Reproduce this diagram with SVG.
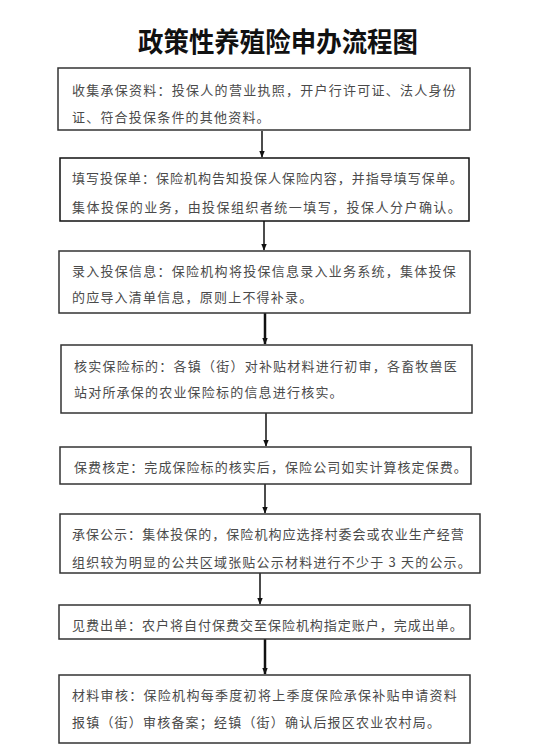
<svg xmlns="http://www.w3.org/2000/svg" width="545" height="748" viewBox="0 0 545 748">
<style>
.box{fill:#fff;stroke:#333;stroke-width:1.5}
.t{font-family:"Noto Sans CJK SC","Liberation Sans",sans-serif;font-size:13px;fill:#4a4a4a;letter-spacing:1.2px}
.title{font-family:"Noto Sans CJK SC","Liberation Sans",sans-serif;font-size:27px;font-weight:bold;fill:#111}
.c{stroke:#111;stroke-width:1.5;fill:none}
</style>
<defs>
<marker id="ah" viewBox="0 0 10 10" refX="9" refY="5" markerWidth="7" markerHeight="7" markerUnits="userSpaceOnUse" orient="auto">
<path d="M0,1 L10,5 L0,9 Z" fill="#111"/>
</marker>
</defs>
<rect width="545" height="748" fill="#fff"/>
<text class="title" x="278" y="52" text-anchor="middle" textLength="280" lengthAdjust="spacingAndGlyphs">政策性养殖险申办流程图</text>
<g id="connectors">
<line class="c" x1="262" y1="131" x2="262" y2="157" marker-end="url(#ah)"/>
<line class="c" x1="264" y1="221" x2="264" y2="250" marker-end="url(#ah)"/>
<line class="c" x1="265" y1="313" x2="265" y2="344" style="stroke-width:2.5" marker-end="url(#ah)"/>
<line class="c" x1="266" y1="413" x2="266" y2="446" marker-end="url(#ah)"/>
<line class="c" x1="265" y1="484" x2="265" y2="513" marker-end="url(#ah)"/>
<line class="c" x1="260" y1="573" x2="260" y2="604" marker-end="url(#ah)"/>
<line class="c" x1="265" y1="639" x2="265" y2="674" style="stroke-width:2.5" marker-end="url(#ah)"/>
</g>
<g id="n1">
<rect class="box" x="58" y="68" width="412" height="62"/>
<text class="t" x="72" y="95" textLength="385" lengthAdjust="spacing">收集承保资料：投保人的营业执照，开户行许可证、法人身份</text>
<text class="t" x="72" y="122">证、符合投保条件的其他资料。</text>
</g>
<g id="n2">
<rect class="box" x="60" y="158" width="409" height="63" style="stroke:#111"/>
<text class="t" x="72" y="183" textLength="392" lengthAdjust="spacing">填写投保单：保险机构告知投保人保险内容，并指导填写保单。</text>
<text class="t" x="72" y="212" textLength="390" lengthAdjust="spacing">集体投保的业务，由投保组织者统一填写，投保人分户确认。</text>
</g>
<g id="n3">
<rect class="box" x="59" y="251" width="411" height="62"/>
<text class="t" x="72" y="276" textLength="385" lengthAdjust="spacing">录入投保信息：保险机构将投保信息录入业务系统，集体投保</text>
<text class="t" x="72" y="302">的应导入清单信息，原则上不得补录。</text>
</g>
<g id="n4">
<rect class="box" x="61" y="345" width="411" height="68"/>
<text class="t" x="74" y="371" textLength="384" lengthAdjust="spacing">核实保险标的：各镇（街）对补贴材料进行初审，各畜牧兽医</text>
<text class="t" x="74" y="397">站对所承保的农业保险标的信息进行核实。</text>
</g>
<g id="n5">
<rect class="box" x="60" y="447" width="411" height="37"/>
<text class="t" x="74" y="472" textLength="394" lengthAdjust="spacing">保费核定：完成保险标的核实后，保险公司如实计算核定保费。</text>
</g>
<g id="n6">
<rect class="box" x="60" y="514" width="420" height="59"/>
<text class="t" x="72" y="539" textLength="393" lengthAdjust="spacing">承保公示：集体投保的，保险机构应选择村委会或农业生产经营</text>
<text class="t" x="72" y="567" textLength="400" lengthAdjust="spacing">组织较为明显的公共区域张贴公示材料进行不少于 3 天的公示。</text>
</g>
<g id="n7">
<rect class="box" x="59" y="605" width="411" height="34"/>
<text class="t" x="72" y="630" textLength="392" lengthAdjust="spacing">见费出单：农户将自付保费交至保险机构指定账户，完成出单。</text>
</g>
<g id="n8">
<rect class="box" x="59" y="675" width="411" height="68"/>
<text class="t" x="72" y="700" textLength="386" lengthAdjust="spacing">材料审核：保险机构每季度初将上季度保险承保补贴申请资料</text>
<text class="t" x="72" y="727">报镇（街）审核备案；经镇（街）确认后报区农业农村局。</text>
</g>
</svg>
